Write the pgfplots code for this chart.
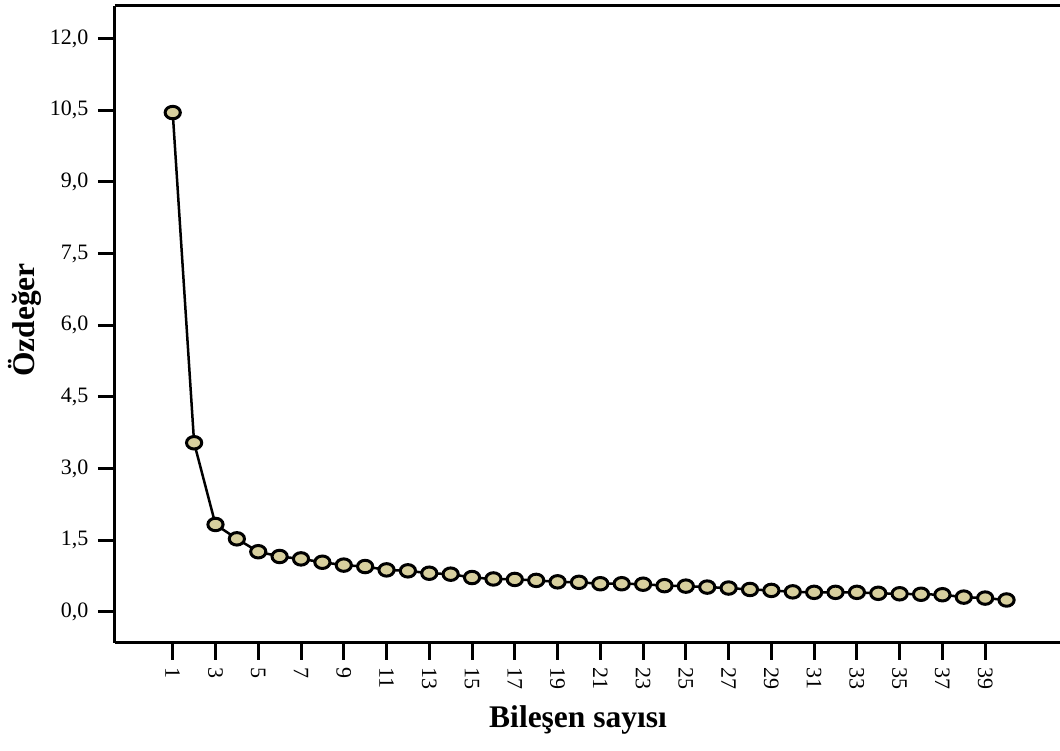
\documentclass[border=0pt]{standalone}
\usepackage{fontspec}
\setmainfont{Liberation Serif}
\usepackage{pgfplots}
\pgfplotsset{compat=1.18}
\definecolor{markfill}{RGB}{215,207,158}
\begin{document}
\begin{tikzpicture}
\useasboundingbox (0pt,0pt) rectangle (1060pt,751pt);
\begin{axis}[
  at={(115pt,108pt)}, anchor=south west,
  scale only axis, width=945pt, height=637pt,
  xmin=-1.7, xmax=42.5, ymin=-0.65, ymax=12.68,
  axis lines*=left,
  axis line style={line width=3pt, black},
  xtick pos=bottom, ytick pos=left,
  tick align=outside, major tick length=17pt,
  tick style={line width=3pt, black},
  xtick={1,3,...,39},
  ytick={0,1.5,3,4.5,6,7.5,9,10.5,12},
  /pgf/number format/assume math mode=true,
  y tick label style={xshift=-6pt, /pgf/number format/.cd, use comma, fixed, fixed zerofill, precision=1},
  tick label style={font=\fontsize{22}{26}\selectfont},
  x tick label style={rotate=-90, anchor=west, xshift=4pt},
  xlabel={\bfseries Bileşen sayısı},
  ylabel={\bfseries Özdeğer},
  xlabel style={at={(axis description cs:0.49,-0.132)}, anchor=base, font=\fontsize{31.5}{36}\selectfont},
  ylabel style={at={(axis description cs:-0.0952,0.507)}, anchor=center, font=\fontsize{31.5}{36}\selectfont},
  clip=false,
]
\draw[line width=3pt, black] (rel axis cs:0,1) -- (rel axis cs:1,1);
\addplot[black, line width=2.5pt, mark=*, mark size=7.6pt,
  mark options={fill=markfill, draw=black, line width=3pt, yscale=0.82}]
  coordinates {
  (1,10.45) (2,3.54) (3,1.83) (4,1.53) (5,1.26) (6,1.16) (7,1.11) (8,1.04)
  (9,0.98) (10,0.95) (11,0.88) (12,0.86) (13,0.81) (14,0.79) (15,0.72)
  (16,0.69) (17,0.68) (18,0.66) (19,0.63) (20,0.62) (21,0.59) (22,0.59)
  (23,0.58) (24,0.55) (25,0.54) (26,0.52) (27,0.50) (28,0.47) (29,0.45)
  (30,0.42) (31,0.41) (32,0.41) (33,0.41) (34,0.39) (35,0.38) (36,0.37)
  (37,0.36) (38,0.31) (39,0.29) (40,0.25)
  };
\end{axis}
\end{tikzpicture}
\end{document}
